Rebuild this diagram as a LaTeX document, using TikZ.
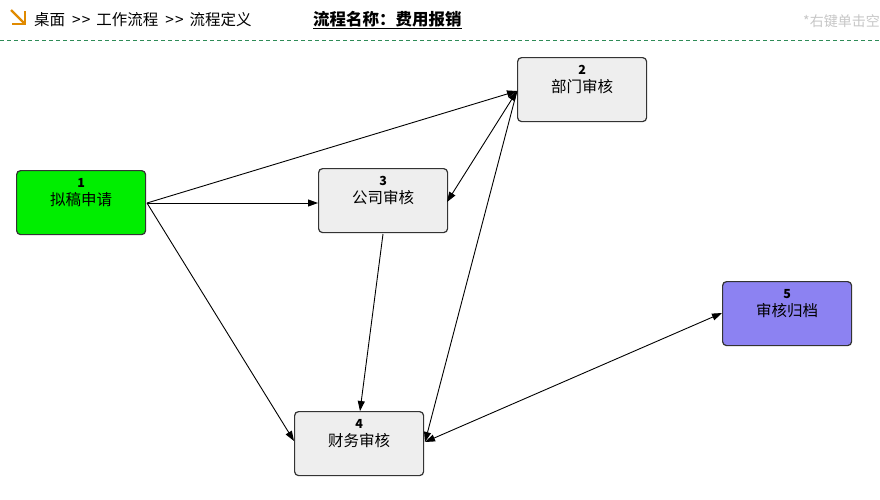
\documentclass[tikz,border=0pt]{standalone}
\usepackage{fontspec}
\setmainfont{Noto Sans CJK SC}
\usetikzlibrary{arrows.meta}
\definecolor{boxgray}{HTML}{EEEEEE}
\definecolor{startgreen}{HTML}{00EE00}
\definecolor{endpurple}{HTML}{8C82F2}
\definecolor{edgegray}{HTML}{333333}
\definecolor{dashgreen}{HTML}{2E8B57}
\definecolor{icon}{HTML}{E08A00}
\tikzset{
  stepbox/.style={draw=edgegray, line width=1.2pt, rounded corners=4pt, fill=boxgray,
    minimum width=129pt, minimum height=64pt, inner sep=0pt, anchor=north west},
  flow/.style={draw=black, line width=0.9pt, -{Triangle[length=10pt,width=7pt]}},
  numtext/.style={font=\fontsize{12.5}{13}\selectfont\bfseries, inner sep=0pt},
  boxtext/.style={font=\fontsize{15.5}{17}\selectfont, inner sep=0pt},
  hdr/.style={anchor=west, inner sep=0pt, font=\fontsize{15.5}{17}\selectfont}
}
\newcommand{\chev}{\hspace{7pt}{>}\kern1pt{>}\hspace{6pt}}
\begin{document}
\begin{tikzpicture}[x=1pt,y=-1pt]
\useasboundingbox (0,0) rectangle (880,499);
\fill[white] (0,0) rectangle (880,499);
% header
\draw[icon, line width=2.2pt] (11,10) -- (24,23);
\draw[icon, line width=2.2pt] (12,24) -- (25,24) -- (25,11);
\node[hdr] (crumb) at (34,20) {桌面\chev 工作流程\chev 流程定义};
\node[hdr, font=\fontsize{16.5}{18}\selectfont\bfseries] (title) at (313,20) {\underline{流程名称：费用报销}};
\node[anchor=west, inner sep=0pt, text=black!22, font=\fontsize{14}{16}\selectfont] (hint) at (803,21) {*右键单击空};
\draw[dashgreen, line width=1pt, dash pattern=on 4pt off 3pt] (0,40) -- (880,40);
% boxes
\node[stepbox, fill=startgreen] (n1) at (16,170) {};
\node[stepbox] (n2) at (517,57) {};
\node[stepbox] (n3) at (318,168) {};
\node[stepbox] (n4) at (294,411) {};
\node[stepbox, fill=endpurple] (n5) at (722,281) {};
\foreach \n/\num/\txt in {n1/1/拟稿申请, n2/2/部门审核, n3/3/公司审核, n4/4/财务审核, n5/5/审核归档}{
  \node[numtext] at ([yshift=-13pt]\n.north) {\num};
  \node[boxtext] at ([yshift=-30pt]\n.north) {\txt};
}
% connectors
\coordinate (a1) at (147,203);
\coordinate (a2) at (517,91);
\coordinate (a3l) at (318,203);
\coordinate (a3r) at (447,202);
\coordinate (a3b) at (383,234);
\coordinate (a4t) at (360,411);
\coordinate (a4l) at (294,441);
\coordinate (a4r) at (425,442);
\coordinate (a5) at (722,313);
\draw[flow] (a1) -- (a2);
\draw[flow] (a1) -- (a3l);
\draw[flow] (a1) -- (a4l);
\draw[flow] (a3b) -- (a4t);
\draw[flow, {Triangle[length=10pt,width=7pt]}-{Triangle[length=10pt,width=7pt]}] (a2) -- (a3r);
\draw[flow] (a2) -- (a4r);
\draw[flow, {Triangle[length=10pt,width=7pt]}-{Triangle[length=10pt,width=7pt]}] (a4r) -- (a5);
\end{tikzpicture}
\end{document}
